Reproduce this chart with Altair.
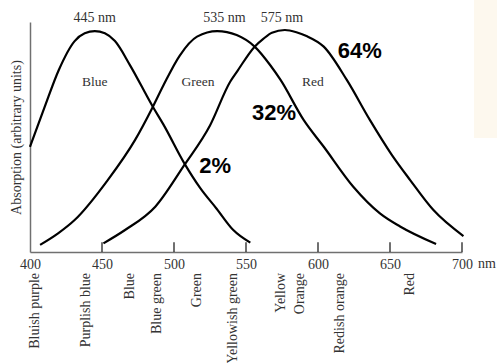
import altair as alt
import pandas as pd

# Relative absorption of the three cone pigments, sampled along the spectrum (nm)
blue_nm = [400, 410, 420, 431, 438, 445, 452, 459, 469.4, 485.4, 492.6, 507.5, 518, 529.6, 541, 553]
blue_abs = [47.4, 65, 82, 95, 98.5, 99.5, 98.5, 95, 84.2, 65.3, 57.5, 39.6, 29, 19.5, 10, 4.2]

green_nm = [407, 419.5, 431, 454, 473, 485, 492.6, 504, 516, 530, 543.5, 556, 567, 574, 590, 604, 624.5, 643, 657, 682]
green_abs = [3.2, 8.4, 14.4, 32.4, 50.5, 65, 75, 88.5, 97, 99.5, 97.7, 92.5, 84, 77.5, 59.5, 47.4, 29.4, 17.4, 11.5, 3.6]

red_nm = [451, 466, 487, 507, 525, 539, 544, 556, 562, 568, 577, 585, 592, 604, 620, 636, 651, 664, 680, 701]
red_abs = [3.9, 9.9, 20.4, 39, 57, 76.7, 81.5, 92.5, 96, 98.8, 100, 99, 97.3, 92.5, 77.5, 59.5, 44, 32.4, 19, 7.2]

# Peak wavelengths and in-plot names
peak_nm = [445, 535, 575]
peak_text = ["445 nm", "535 nm", "575 nm"]
cone_names = ["Blue", "Green", "Red"]
cone_name_nm = [445, 516.7, 596.5]
cone_name_abs = [76.6, 76.6, 76.6]

# Share of each cone type
pct_text = ["2%", "32%", "64%"]
pct_nm = [528.5, 569.4, 629]
pct_abs = [38.7, 62.6, 90.5]

# Perceived colour names along the wavelength axis
hue_names = ["Bluish purple", "Purplish blue", "Blue", "Blue green", "Green",
             "Yellowish green", "Yellow", "Orange", "Redish orange", "Red"]
hue_nm = [403.5, 438.9, 469.4, 488.2, 516, 541, 574.3, 587.5, 615.3, 663.9]

tick_nm = [450, 500, 550, 600, 650, 700]
axis_nm = [400, 450, 500, 550, 600, 650, 700]

curves = pd.concat([
    pd.DataFrame({"cone": "S", "wavelength": blue_nm, "absorption": blue_abs}),
    pd.DataFrame({"cone": "M", "wavelength": green_nm, "absorption": green_abs}),
    pd.DataFrame({"cone": "L", "wavelength": red_nm, "absorption": red_abs}),
])

x_scale = alt.Scale(domain=[400, 700], nice=False, zero=False)
y_scale = alt.Scale(domain=[0, 103.6], nice=False, zero=True)
SERIF = "Liberation Serif"

x_enc = alt.X("wavelength:Q", scale=x_scale, axis=alt.Axis(
    values=axis_nm, title=None, ticks=False, grid=False,
    domainColor="#707070", domainWidth=1.5,
    labelFont=SERIF, labelFontSize=14, labelColor="#333333",
    labelPadding=5, labelFlush=False))
y_enc = alt.Y("absorption:Q", scale=y_scale, axis=alt.Axis(
    title="Absorption (arbitrary units)", ticks=False, labels=False, grid=False,
    domainColor="#707070", domainWidth=1.5,
    titleFont=SERIF, titleFontSize=14, titleFontWeight="normal", titleColor="#333333",
    titleX=-14, titleY=115, titleBaseline="middle", titleAngle=270))

lines = alt.Chart(curves).mark_line(
    color="black", strokeWidth=2.2, interpolate="monotone"
).encode(x=x_enc, y=y_enc, detail="cone:N")

ticks = alt.Chart(pd.DataFrame({"wavelength": tick_nm})).mark_rule(
    color="#222222", strokeWidth=1.3
).encode(x=alt.X("wavelength:Q", scale=x_scale),
         y=alt.datum(0, scale=y_scale), y2=alt.datum(4.4))

peaks = alt.Chart(pd.DataFrame({"wavelength": peak_nm, "t": peak_text})).mark_text(
    font=SERIF, fontSize=14, color="#333333", baseline="middle"
).encode(x=alt.X("wavelength:Q", scale=x_scale), y=alt.value(-4), text="t:N")

names = alt.Chart(pd.DataFrame({"wavelength": cone_name_nm, "absorption": cone_name_abs,
                                "t": cone_names})).mark_text(
    font=SERIF, fontSize=13.5, color="#333333", baseline="middle"
).encode(x=alt.X("wavelength:Q", scale=x_scale),
         y=alt.Y("absorption:Q", scale=y_scale), text="t:N")

pcts = alt.Chart(pd.DataFrame({"wavelength": pct_nm, "absorption": pct_abs,
                               "t": pct_text})).mark_text(
    font="Liberation Sans", fontSize=22, fontWeight="bold", color="black", baseline="middle"
).encode(x=alt.X("wavelength:Q", scale=x_scale),
         y=alt.Y("absorption:Q", scale=y_scale), text="t:N")

hues = alt.Chart(pd.DataFrame({"wavelength": hue_nm, "t": hue_names})).mark_text(
    font=SERIF, fontSize=14, color="#333333", angle=270, align="right", baseline="middle"
).encode(x=alt.X("wavelength:Q", scale=x_scale), y=alt.value(251), text="t:N")

unit = alt.Chart(pd.DataFrame({"wavelength": [700], "t": ["nm"]})).mark_text(
    font=SERIF, fontSize=14, color="#333333", align="left", baseline="alphabetic", dx=16
).encode(x=alt.X("wavelength:Q", scale=x_scale), y=alt.value(246), text="t:N")

# pale panel at the top right corner
panel = alt.Chart(pd.DataFrame({"a": [0]})).mark_rect(color="#fdf8ee").encode(
    x=alt.value(444), x2=alt.value(470), y=alt.value(-22), y2=alt.value(116))

chart = alt.layer(panel, lines, ticks, peaks, names, pcts, hues, unit).properties(
    width=432, height=230,
    autosize=alt.AutoSizeParams(type="none"),
    padding={"left": 30, "top": 22, "right": 35, "bottom": 111},
    background="white",
).configure_view(stroke=None)

chart.save("out.html", embed_options={"renderer": "svg", "actions": False})
